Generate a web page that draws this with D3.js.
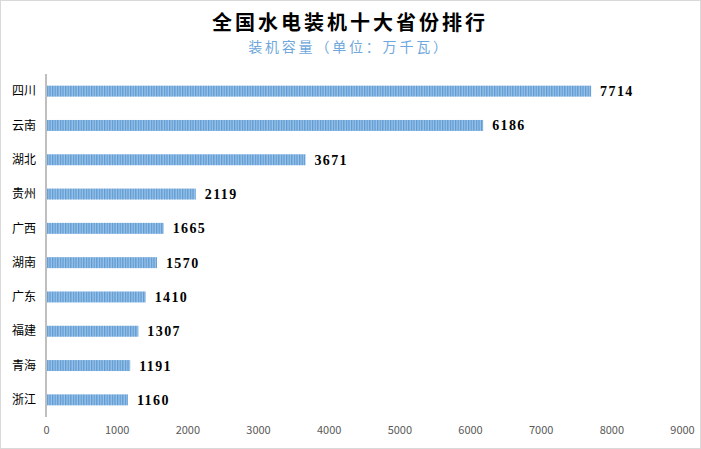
<!DOCTYPE html>
<html><head><meta charset="utf-8">
<script src="https://cdn.jsdelivr.net/npm/d3@7/dist/d3.min.js"></script>
<style>body{margin:0;background:#fff;}svg{display:block;}</style>
</head><body>
<script>
const categories = ["四川","云南","湖北","贵州","广西","湖南","广东","福建","青海","浙江"];
const values = [7714,6186,3671,2119,1665,1570,1410,1307,1191,1160];
const xTicks = [0,1000,2000,3000,4000,5000,6000,7000,8000,9000];
const title = "全国水电装机十大省份排行";
const subtitle = "装机容量（单位：万千瓦）";

const W = 701, H = 449;
const svg = d3.select("body").append("svg").attr("width", W).attr("height", H);
svg.append("rect").attr("x",0.5).attr("y",0.5).attr("width",W-1).attr("height",H-1)
  .attr("fill","#fff").attr("stroke","#d9d9d9");

const defs = svg.append("defs");
const pat = defs.append("pattern").attr("id","stripes").attr("patternUnits","userSpaceOnUse")
  .attr("width",2.6).attr("height",10);
pat.append("rect").attr("width",2.6).attr("height",10).attr("fill","#9dc3e6");
pat.append("rect").attr("width",1.3).attr("height",10).attr("fill","#5b9bd5");

svg.append("text").attr("x",350).attr("y",30).attr("text-anchor","middle")
  .attr("font-family","'Noto Sans CJK SC'").attr("font-weight","bold").attr("font-size",20)
  .attr("letter-spacing",3).attr("fill","#000").text(title);
svg.append("text").attr("x",349).attr("y",52).attr("text-anchor","middle")
  .attr("font-family","'Noto Sans CJK SC'").attr("font-size",14)
  .attr("letter-spacing",2.8).attr("fill","#6fa8dc").text(subtitle);

const x = d3.scaleLinear().domain([0,9000]).range([46,682]);
const y = d3.scaleBand().domain(categories).range([74,417]).paddingInner(0.68).paddingOuter(0.34);

svg.selectAll("rect.bar").data(values).enter().append("rect").attr("class","bar")
  .attr("x", x(0)+1).attr("y",(d,i)=>y(categories[i]))
  .attr("width", d=>x(d)-x(0)-1).attr("height", y.bandwidth())
  .attr("fill","url(#stripes)");

svg.append("line").attr("x1",x(0)).attr("x2",x(0)).attr("y1",74).attr("y2",417)
  .attr("stroke","#bfbfbf").attr("stroke-width",2);

svg.selectAll("text.cat").data(categories).enter().append("text").attr("class","cat")
  .attr("x",36).attr("y",d=>y(d)+y.bandwidth()/2).attr("dy","0.35em").attr("text-anchor","end")
  .attr("font-family","'Noto Sans CJK SC'").attr("font-size",12).attr("fill","#000").text(d=>d);

svg.selectAll("text.val").data(values).enter().append("text").attr("class","val")
  .attr("x",d=>x(d)+9).attr("y",(d,i)=>y(categories[i])+y.bandwidth()/2).attr("dy","0.36em")
  .attr("font-family","'Liberation Serif'").attr("font-weight","bold").attr("font-size",14)
  .attr("letter-spacing",1.4).attr("fill","#000").text(d=>d);

const xAxis = d3.axisBottom(x).tickValues(xTicks).tickSize(0).tickPadding(0).tickFormat(d3.format("d"));
const gx = svg.append("g").attr("transform","translate(0,426)").call(xAxis);
gx.select(".domain").remove();
gx.selectAll("text").attr("font-family","'Noto Sans CJK SC'").attr("font-size",11).attr("fill","#595959");
</script>
</body></html>
